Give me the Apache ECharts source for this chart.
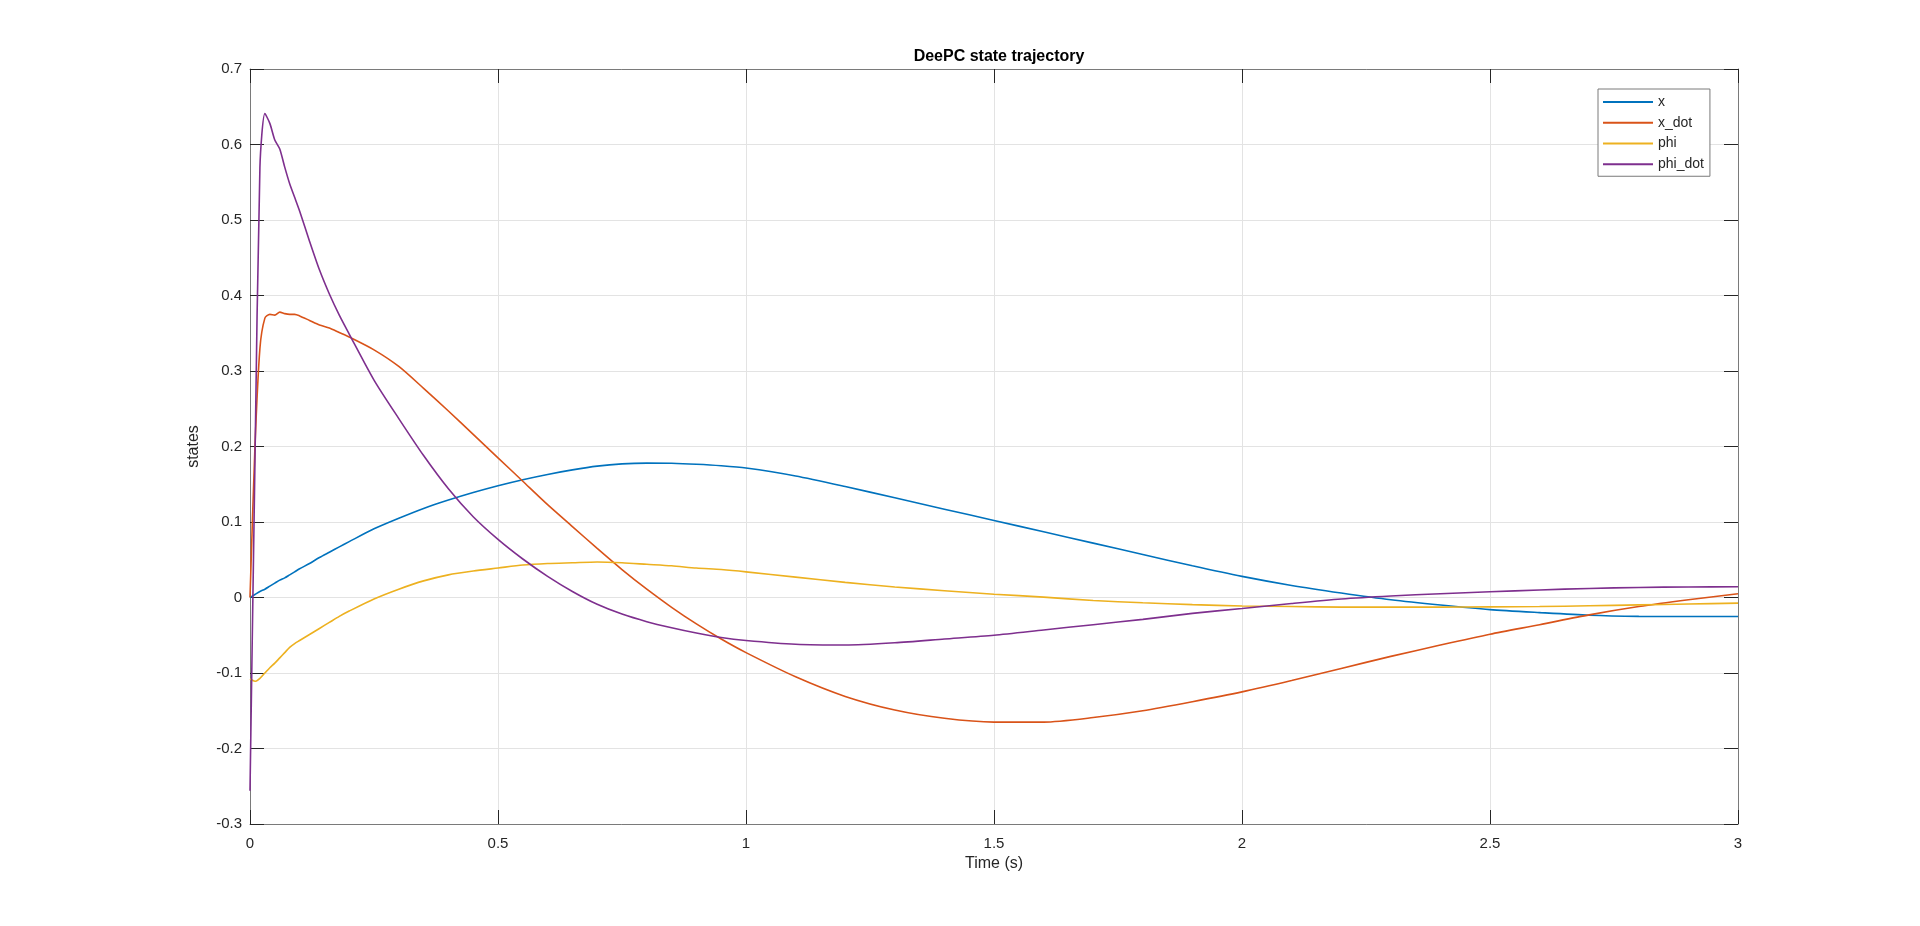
<!DOCTYPE html>
<html>
<head>
<meta charset="utf-8">
<title>DeePC state trajectory</title>
<script src="https://cdn.jsdelivr.net/npm/echarts@6/dist/echarts.min.js"></script>
<style>
    html, body { margin: 0; padding: 0; background: #fff; }
    #main { width: 1920px; height: 926px; }
</style>
</head>
<body>
<div id="main"></div>
<script>
// sample times (s)
const timeArr = [0, 0.01, 0.02, 0.03, 0.04, 0.05, 0.06, 0.07, 0.08, 0.09, 0.10,
    0.12, 0.14, 0.16, 0.18, 0.20, 0.25, 0.30, 0.35, 0.40, 0.45, 0.50, 0.55, 0.60,
    0.65, 0.70, 0.75, 0.80, 0.85, 0.90, 0.95, 1.0, 1.1, 1.2, 1.3, 1.4, 1.5, 1.6,
    1.7, 1.8, 1.9, 2.0, 2.1, 2.2, 2.3, 2.4, 2.5, 2.6, 2.7, 2.8, 2.9, 3.0];

const xArr = [0, 0.004, 0.008, 0.011, 0.015, 0.019, 0.023, 0.026, 0.030, 0.034, 0.038,
    0.045, 0.053, 0.060, 0.067, 0.074, 0.091, 0.105, 0.118, 0.129, 0.139, 0.148, 0.156, 0.163,
    0.169, 0.174, 0.177, 0.178, 0.1778, 0.1765, 0.1745, 0.1715, 0.161, 0.147, 0.132, 0.117, 0.102, 0.087,
    0.072, 0.057, 0.042, 0.028, 0.016, 0.006, -0.003, -0.010, -0.016, -0.020, -0.0235, -0.025, -0.0252, -0.0252];

const xDotArr = [0, 0.20, 0.33, 0.370, 0.375, 0.374, 0.378, 0.376, 0.375, 0.375, 0.373,
    0.367, 0.361, 0.357, 0.351, 0.345, 0.328, 0.306, 0.277, 0.247, 0.216, 0.185, 0.154, 0.123,
    0.094, 0.065, 0.037, 0.011, -0.013, -0.035, -0.055, -0.073, -0.105, -0.131, -0.149, -0.160, -0.165, -0.165,
    -0.159, -0.150, -0.138, -0.125, -0.110, -0.094, -0.078, -0.063, -0.0486, -0.036, -0.023, -0.012, -0.003, 0.005];

const phiArr = [-0.108, -0.111, -0.107, -0.100, -0.093, -0.087, -0.080, -0.073, -0.066, -0.061, -0.057,
    -0.049, -0.041, -0.033, -0.025, -0.018, -0.002, 0.011, 0.022, 0.030, 0.035, 0.039, 0.043, 0.045,
    0.046, 0.047, 0.046, 0.044, 0.042, 0.039, 0.037, 0.034, 0.027, 0.020, 0.014, 0.009, 0.0044, 0.0005,
    -0.004, -0.007, -0.0095, -0.0112, -0.012, -0.0127, -0.0128, -0.0127, -0.0124, -0.012, -0.011, -0.0098, -0.0086, -0.0075];

const phiDotArr = [-0.256, 0.18, 0.57, 0.641, 0.628, 0.606, 0.594, 0.570, 0.548, 0.530, 0.512,
    0.472, 0.434, 0.402, 0.374, 0.349, 0.288, 0.237, 0.188, 0.144, 0.107, 0.077, 0.051, 0.028,
    0.008, -0.009, -0.022, -0.032, -0.040, -0.047, -0.053, -0.057, -0.062, -0.063, -0.060, -0.055, -0.050, -0.043,
    -0.036, -0.029, -0.021, -0.0146, -0.008, -0.002, 0.002, 0.005, 0.0076, 0.010, 0.012, 0.0133, 0.014, 0.0142];

const seriesNames = ['x', 'x_dot', 'phi', 'phi_dot'];
const seriesColors = ['#0072BD', '#D95319', '#EDB120', '#7E2F8E'];

// axis ranges / tick steps
const xRange = [0, 3, 0.5];
const yRange = [-0.3, 0.7, 0.1];

const drawStateChart = function(id) {
    let myChart = echarts.init(document.getElementById(id));

    let allValues = [xArr, xDotArr, phiArr, phiDotArr];
    let seriesList = [];
    for (let i = 0; i < seriesNames.length; i++) {
        let pts = [];
        for (let k = 0; k < timeArr.length; k++) {
            pts.push([timeArr[k], allValues[i][k]]);
        }
        seriesList.push({
            name: seriesNames[i],
            type: 'line',
            symbol: 'none',
            smooth: 0.25,
            data: pts,
            lineStyle: { color: seriesColors[i], width: 1.6 },
            itemStyle: { color: seriesColors[i] }
        });
    }

    const font = "'Liberation Sans', Arial, Helvetica, sans-serif";
    const boxColor = '#7a7a7a';
    const tickColor = '#262626';

    // shared axis look (box with inward ticks)
    let axisBase = function(range, pos, main) {
        return {
            type: 'value',
            position: pos,
            min: range[0],
            max: range[1],
            interval: range[2],
            axisLine: { show: true, onZero: false, lineStyle: { color: boxColor, width: 1 } },
            axisTick: { show: true, inside: true, length: 14, lineStyle: { color: tickColor, width: 1 } },
            axisLabel: {
                show: main,
                color: tickColor,
                fontSize: 15,
                fontFamily: font
            },
            splitLine: { show: main, lineStyle: { color: '#e3e3e3', width: 1 } }
        };
    };

    let xMain = axisBase(xRange, 'bottom', true);
    xMain.axisLabel.margin = 12;
    xMain.name = 'Time (s)';
    xMain.nameLocation = 'middle';
    xMain.nameGap = 32;
    xMain.nameTextStyle = { color: tickColor, fontSize: 16, fontFamily: font };

    let yMain = axisBase(yRange, 'left', true);
    yMain.axisLabel.margin = 8;
    yMain.name = 'states';
    yMain.nameLocation = 'middle';
    yMain.nameGap = 48;
    yMain.nameTextStyle = { color: tickColor, fontSize: 16, fontFamily: font };

    let option = {
        backgroundColor: '#ffffff',
        animation: false,
        title: {
            text: 'DeePC state trajectory',
            left: 994,
            textAlign: 'center',
            top: 44,
            textStyle: { color: '#000', fontSize: 16, fontWeight: 'bold', fontFamily: font }
        },
        legend: {
            data: seriesNames,
            orient: 'vertical',
            left: 1598,
            top: 89,
            padding: [6, 6, 5, 5],
            icon: 'rect',
            itemWidth: 50,
            itemHeight: 2,
            itemGap: 6.75,
            backgroundColor: '#fff',
            borderColor: boxColor,
            borderWidth: 1,
            textStyle: { color: tickColor, fontSize: 14, fontFamily: font, lineHeight: 14 }
        },
        grid: {
            left: 250,
            right: 182,
            top: 69,
            bottom: 102,
            containLabel: false
        },
        xAxis: [xMain, axisBase(xRange, 'top', false)],
        yAxis: [yMain, axisBase(yRange, 'right', false)],
        series: seriesList
    };

    myChart.setOption(option);

    window.addEventListener("resize", function() {
        myChart.resize();
    });
};

drawStateChart('main');
</script>
</body>
</html>
